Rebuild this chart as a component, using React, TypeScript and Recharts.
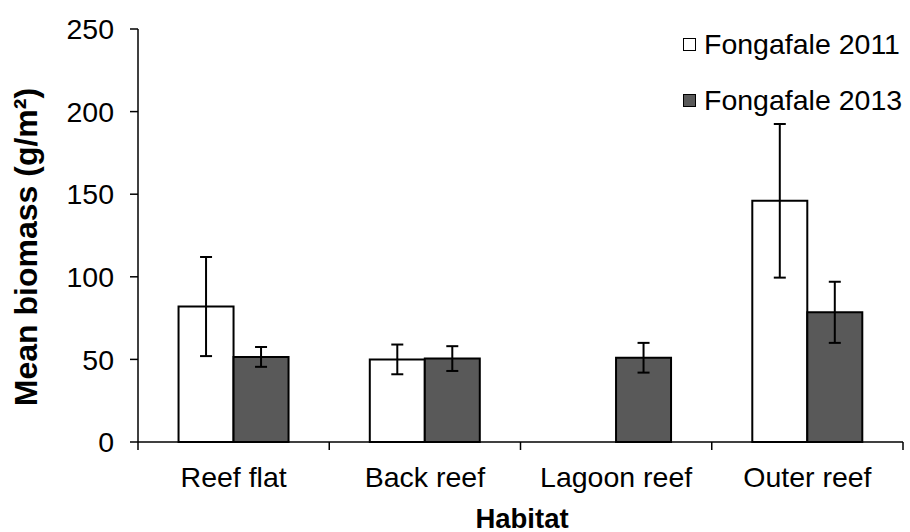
import React from 'react';
import { BarChart, Bar, XAxis, YAxis, ErrorBar, Legend } from 'recharts';

const habitats = ['Reef flat', 'Back reef', 'Lagoon reef', 'Outer reef'];
const seriesNames = ['Fongafale 2011', 'Fongafale 2013'];
const seriesColors = ['#ffffff', '#595959'];
const mean2011: (number | null)[] = [82, 50, null, 146];
const err2011: (number | null)[] = [30, 9, null, 46.5];
const mean2013: number[] = [51.5, 50.5, 51, 78.5];
const err2013: number[] = [6, 7.5, 9, 18.5];
const yTicks = [0, 50, 100, 150, 200, 250];

const data = habitats.map((h, i) => ({
  habitat: h,
  y2011: mean2011[i],
  e2011: err2011[i],
  y2013: mean2013[i],
  e2013: err2013[i],
}));

const FONT = '"Liberation Sans", Arial, Helvetica, sans-serif';
const FS = 28.5;
const X_TICK_SIZE = 8;
const X_TICK_MARGIN = 17;

const XTick = (props: any) => {
  const { x, y, payload, index, visibleTicksCount } = props;
  const half = payload && typeof payload.offset === 'number' ? payload.offset : 0;
  const axisY = y - X_TICK_SIZE - X_TICK_MARGIN;
  return (
    <g>
      <line x1={x - half} y1={axisY} x2={x - half} y2={axisY + X_TICK_SIZE} stroke="#000" strokeWidth={1.5} />
      {index === visibleTicksCount - 1 && (
        <line x1={x + half} y1={axisY} x2={x + half} y2={axisY + X_TICK_SIZE} stroke="#000" strokeWidth={1.5} />
      )}
      <text x={x} y={y} dy="0.71em" textAnchor="middle" fontSize={FS} fill="#000" fontFamily={FONT}>
        {payload.value}
      </text>
    </g>
  );
};

const LegendContent = () => (
  <div style={{ fontFamily: FONT, fontSize: FS, color: '#000' }}>
    {seriesNames.map((name, i) => (
      <div key={name} style={{ display: 'flex', alignItems: 'center', height: 56 }}>
        <span
          style={{
            display: 'inline-block',
            width: 13,
            height: 13,
            boxSizing: 'border-box',
            border: '1.5px solid #000',
            background: seriesColors[i],
            marginRight: 8,
          }}
        />
        <span style={{ lineHeight: '28px', whiteSpace: 'nowrap' }}>{name}</span>
      </div>
    ))}
  </div>
);

export default function App() {
  return (
    <div style={{ position: 'absolute', left: 0, top: 0, width: 910, height: 532, background: '#fff' }}>
      <BarChart
        width={910}
        height={532}
        data={data}
        margin={{ top: 29, right: 7, bottom: 0, left: 0 }}
        barCategoryGap="21.2%"
        barGap={0}
      >
        <XAxis
          dataKey="habitat"
          height={90}
          interval={0}
          tickLine={false}
          tickSize={X_TICK_SIZE}
          tickMargin={X_TICK_MARGIN}
          axisLine={{ stroke: '#000', strokeWidth: 1.5 }}
          tick={<XTick />}
          label={{
            content: () => (
              <text x={522} y={527.5} textAnchor="middle" fontSize={27.5} fontWeight="bold" fill="#000" fontFamily={FONT}>
                Habitat
              </text>
            ),
          }}
        />
        <YAxis
          domain={[0, 250]}
          ticks={yTicks}
          interval={0}
          width={138}
          tickSize={8}
          tickMargin={16}
          axisLine={{ stroke: '#000', strokeWidth: 1.5 }}
          tickLine={{ stroke: '#000', strokeWidth: 1.5 }}
          tick={{ fontSize: FS, fill: '#000', fontFamily: FONT }}
          label={{
            content: () => (
              <text
                x={37}
                y={247}
                transform="rotate(-90 37 247)"
                textAnchor="middle"
                fontSize={32}
                fontWeight="bold"
                fill="#000"
                fontFamily={FONT}
              >
                Mean biomass (g/m²)
              </text>
            ),
          }}
        />
        <Legend
          layout="vertical"
          align="center"
          verticalAlign="middle"
          content={<LegendContent />}
          wrapperStyle={{ top: 16, left: 683, width: 'auto', height: 'auto' }}
        />
        <Bar dataKey="y2011" name={seriesNames[0]} fill={seriesColors[0]} stroke="#000" strokeWidth={2} isAnimationActive={false}>
          <ErrorBar dataKey="e2011" width={6} stroke="#000" strokeWidth={2} isAnimationActive={false} />
        </Bar>
        <Bar dataKey="y2013" name={seriesNames[1]} fill={seriesColors[1]} stroke="#000" strokeWidth={2} isAnimationActive={false}>
          <ErrorBar dataKey="e2013" width={6} stroke="#000" strokeWidth={2} isAnimationActive={false} />
        </Bar>
      </BarChart>
    </div>
  );
}
